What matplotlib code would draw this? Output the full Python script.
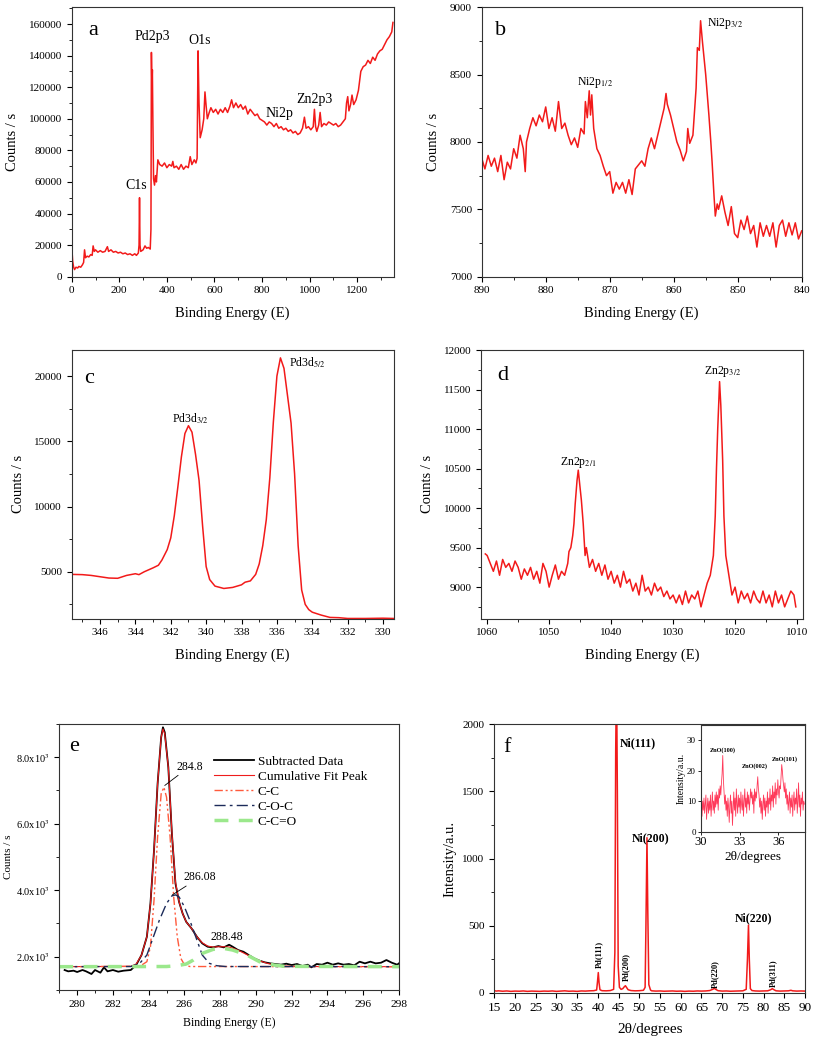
import matplotlib.pyplot as plt
from matplotlib.ticker import MultipleLocator, FuncFormatter
import numpy as np

plt.rcParams['font.family'] = ['Liberation Serif', 'DejaVu Serif']
plt.rcParams['mathtext.fontset'] = 'stix'
plt.rcParams['axes.linewidth'] = 0.8
plt.rcParams['axes.edgecolor'] = '#333333'

RED = '#f21a1a'

# ---- a: survey spectrum
a_x = [0, 1, 4, 8, 12, 18, 25, 30, 38, 45, 50, 54, 58, 65, 72, 80, 86, 90, 95, 100,
       110, 120, 130, 140, 150, 155, 165, 175, 185, 195, 205, 215, 225, 235, 245, 255, 265, 272, 280, 283,
       285, 287, 290, 300, 308, 315, 322, 330, 333, 335, 337, 339, 341, 344, 348, 352, 356, 362, 370, 380,
       390, 400, 410, 420, 425, 430, 440, 450, 460, 470, 480, 490, 498, 505, 515, 522, 527, 531, 535, 540,
       548, 555, 560, 565, 570, 578, 585, 595, 605, 615, 625, 635, 645, 655, 665, 672, 680, 690, 700, 710,
       720, 730, 740, 750, 760, 770, 780, 790, 800, 810, 820, 830, 840, 850, 860, 870, 880, 890, 900, 910,
       920, 930, 940, 950, 960, 970, 978, 985, 995, 1005, 1015, 1020, 1025, 1030, 1038, 1044, 1050, 1060, 1070, 1080,
       1090, 1100, 1110, 1120, 1130, 1140, 1150, 1155, 1160, 1165, 1172, 1178, 1185, 1195, 1205, 1215, 1225, 1235, 1245, 1255,
       1265, 1275, 1285, 1295, 1305, 1315, 1325, 1335, 1345, 1350]
a_y = [1000, 17000, 10000, 6000, 4500, 6000, 5500, 6500, 6000, 7500, 9000, 17000, 12000, 13000, 12500, 14000, 13500, 19500, 16000, 17000,
       15500, 16500, 15500, 16000, 19000, 16000, 17000, 15500, 16000, 15000, 15500, 14500, 15000, 14000, 14500, 13500, 14500, 13500, 15000, 20000,
       50000, 20000, 16000, 17000, 19500, 18000, 18500, 17500, 30000, 142000, 120000, 131000, 100000, 62000, 58000, 64000, 60000, 74000, 71000, 70000,
       72000, 69000, 71000, 70000, 73000, 69000, 70000, 68000, 71000, 68000, 70000, 69000, 76000, 71000, 74000, 72000, 75000, 143000, 110000, 88000,
       93000, 100000, 117000, 108000, 100000, 104000, 107000, 104000, 106000, 103000, 106000, 104000, 107000, 104000, 108000, 112000, 107000, 110000, 107000, 109000,
       106000, 108000, 103000, 106000, 104000, 102000, 103000, 100000, 99000, 98000, 96000, 98000, 97000, 95000, 97000, 94000, 95000, 93000, 94000, 92000,
       93000, 91000, 92000, 90000, 91000, 94000, 101000, 94000, 95000, 93000, 95000, 106000, 95000, 92000, 96000, 104000, 95000, 97000, 96000, 98000,
       97000, 96000, 97000, 95000, 96000, 98000, 100000, 110000, 114000, 105000, 109000, 115000, 109000, 112000, 118000, 130000, 133000, 134000, 137000, 135000,
       139000, 137000, 141000, 143000, 144000, 147000, 150000, 152000, 155000, 161000]

# ---- b: Ni 2p
b_x = [890, 889.5, 889, 888.5, 888, 887.5, 887, 886.5, 886, 885.5, 885, 884.5, 884, 883.5, 883.2, 883, 882.5, 882, 881.5, 881,
       880.5, 880, 879.5, 879, 878.5, 878, 877.5, 877, 876.5, 876, 875.5, 875, 874.5, 874, 873.8, 873.5, 873.2, 873, 872.8, 872.5,
       872, 871.5, 871, 870.5, 870, 869.5, 869, 868.5, 868, 867.5, 867, 866.5, 866, 865.5, 865, 864.5, 864, 863.5, 863, 862.5,
       862, 861.5, 861.2, 861, 860.5, 860, 859.5, 859, 858.5, 858, 857.8, 857.5, 857, 856.5, 856.3, 856, 855.8, 855.5, 855, 854.5,
       854.2, 854, 853.7, 853.5, 853.2, 853, 852.5, 852, 851.5, 851, 850.5, 850, 849.5, 849, 848.5, 848, 847.5, 847, 846.5, 846,
       845.5, 845, 844.5, 844, 843.5, 843, 842.5, 842, 841.5, 841, 840.5, 840]
b_y = [7880, 7800, 7900, 7820, 7880, 7780, 7900, 7720, 7850, 7800, 7950, 7880, 8050, 7950, 7780, 8000, 8100, 8180, 8120, 8200,
       8150, 8260, 8100, 8180, 8080, 8300, 8100, 8140, 8050, 7980, 8030, 7960, 8100, 8060, 8300, 8180, 8380, 8200, 8350, 8100,
       7950, 7900, 7820, 7750, 7780, 7620, 7700, 7650, 7700, 7620, 7720, 7610, 7800, 7830, 7860, 7820, 7950, 8030, 7950, 8050,
       8150, 8250, 8360, 8280, 8200, 8100, 8000, 7940, 7860, 7930, 8100, 7990, 8050, 8400, 8700, 8680, 8900, 8740, 8500, 8200,
       8000, 7850, 7600, 7450, 7540, 7500, 7600, 7480, 7380, 7520, 7320, 7290, 7420, 7350, 7450, 7320, 7380, 7220, 7400, 7300,
       7380, 7300, 7400, 7220, 7380, 7420, 7300, 7400, 7310, 7400, 7280, 7340]

# ---- c: Pd 3d
c_x = [347.6, 347, 346.5, 346, 345.5, 345, 344.5, 344, 343.8, 343.5, 343, 342.7, 342.5, 342.2, 342, 341.8, 341.6, 341.4, 341.2, 341.0,
       340.8, 340.6, 340.4, 340.2, 340, 339.8, 339.5, 339, 338.5, 338, 337.8, 337.5, 337.2, 337, 336.8, 336.6, 336.4, 336.2, 336, 335.8,
       335.6, 335.4, 335.2, 335, 334.8, 334.6, 334.4, 334.2, 334, 333.5, 333, 332.5, 332, 331, 330, 329.4]
c_y = [4800, 4780, 4720, 4620, 4520, 4500, 4720, 4850, 4780, 5000, 5300, 5500, 5900, 6700, 7600, 9300, 11500, 13800, 15600, 16200,
       15700, 14000, 12000, 8500, 5400, 4400, 3900, 3720, 3800, 4000, 4200, 4300, 4800, 5600, 7000, 9000, 12200, 16500, 20000, 21400,
       20600, 18500, 16400, 12500, 7000, 3600, 2500, 2100, 1900, 1680, 1500, 1480, 1420, 1420, 1440, 1420]

# ---- d: Zn 2p
d_x = [1060.3, 1060, 1059.5, 1059, 1058.5, 1058, 1057.5, 1057, 1056.5, 1056, 1055.5, 1055, 1054.5, 1054, 1053.5, 1053, 1052.5, 1052, 1051.5, 1051,
       1050.5, 1050, 1049.5, 1049, 1048.5, 1048, 1047.5, 1047, 1046.8, 1046.5, 1046.2, 1046, 1045.8, 1045.5, 1045.3, 1045, 1044.8, 1044.5, 1044.2, 1044,
       1043.5, 1043, 1042.5, 1042, 1041.5, 1041, 1040.5, 1040, 1039.5, 1039, 1038.5, 1038, 1037.5, 1037, 1036.5, 1036, 1035.5, 1035, 1034.5, 1034,
       1033.5, 1033, 1032.5, 1032, 1031.5, 1031, 1030.5, 1030, 1029.5, 1029, 1028.5, 1028, 1027.5, 1027, 1026.5, 1026, 1025.5, 1025, 1024.5, 1024,
       1023.5, 1023.2, 1023, 1022.8, 1022.5, 1022.3, 1022, 1021.8, 1021.5, 1021.2, 1021, 1020.5, 1020, 1019.5, 1019, 1018.5, 1018, 1017.5, 1017, 1016.5,
       1016, 1015.5, 1015, 1014.5, 1014, 1013.5, 1013, 1012.5, 1012, 1011.5, 1011, 1010.5, 1010.2]
d_y = [9420, 9400, 9300, 9200, 9330, 9150, 9350, 9250, 9300, 9200, 9330, 9250, 9100, 9230, 9150, 9250, 9100, 9200, 9050, 9300,
       9200, 9000, 9150, 9280, 9100, 9200, 9150, 9300, 9450, 9500, 9650, 9800, 10050, 10350, 10480, 10250, 10100, 9800, 9400, 9500,
       9250, 9350, 9200, 9300, 9150, 9280, 9100, 9200, 9050, 9150, 9000, 9200, 9050, 9100, 8950, 9050, 8900, 9150, 8950, 9000,
       8900, 9050, 8950, 9000, 8880, 8950, 8850, 8900, 8800, 8900, 8780, 8950, 8800, 8900, 8850, 8950, 8750, 8900, 9050, 9150,
       9400, 9900, 10500, 11000, 11600, 11300, 10600, 9900, 9400, 9250, 9150, 8900, 9000, 8800, 8950, 8850, 8920, 8800, 8950, 8850,
       8800, 8950, 8800, 8900, 8750, 8950, 8800, 8900, 8750, 8850, 8950, 8900, 8750]

# ---- e: C 1s fit
e_data_x = [279.3, 279.5, 279.8, 280, 280.3, 280.5, 280.8, 281, 281.3, 281.5, 281.7, 282, 282.3, 282.6, 283, 283.3, 283.6, 283.9, 284.1, 284.3,
            284.5, 284.7, 284.8, 284.9, 285.1, 285.3, 285.5, 285.7, 285.9, 286.1, 286.4, 286.7, 287, 287.3, 287.6, 287.9, 288.2, 288.5, 288.7, 289,
            289.3, 289.6, 289.9, 290.2, 290.5, 290.8, 291.1, 291.4, 291.7, 292, 292.3, 292.6, 292.9, 293.1, 293.4, 293.7, 294, 294.3, 294.6, 294.9,
            295.2, 295.5, 295.8, 296.1, 296.4, 296.7, 297, 297.3, 297.6, 297.9, 298]
e_data_y = [1600, 1560, 1580, 1540, 1600, 1560, 1480, 1600, 1520, 1680, 1560, 1600, 1550, 1580, 1600, 1750, 2050, 2600, 3600, 5200,
            7200, 8600, 8900, 8750, 7700, 5700, 4200, 3650, 3300, 3050, 2850, 2600, 2400, 2300, 2280, 2320, 2280, 2360, 2300, 2200,
            2150, 2050, 1950, 1880, 1830, 1800, 1780, 1760, 1790, 1750, 1780, 1720, 1760, 1680, 1780, 1760, 1820, 1760, 1800, 1760,
            1780, 1740, 1850, 1800, 1850, 1800, 1820, 1900, 1820, 1760, 1800]
e_fit_x = [279, 283, 283.3, 283.6, 283.9, 284.1, 284.3, 284.5, 284.7, 284.8, 284.9, 285.1, 285.3, 285.5, 285.7, 285.9, 286.1, 286.4, 286.7, 287.0,
           287.3, 287.6, 287.9, 288.2, 288.5, 288.8, 289.1, 289.5, 289.9, 290.3, 290.7, 291.1, 291.6, 292.2, 298]
e_fit_y = [1700, 1710, 1780, 2050, 2600, 3600, 5200, 7200, 8600, 8850, 8700, 7700, 5750, 4250, 3650, 3300, 3050, 2850, 2600, 2420,
           2320, 2290, 2300, 2300, 2290, 2240, 2170, 2060, 1950, 1860, 1790, 1750, 1720, 1705, 1700]
e_cc_x = [279, 283.5, 283.9, 284.1, 284.3, 284.5, 284.7, 284.85, 285.0, 285.2, 285.4, 285.6, 285.8, 286.0, 286.3, 298]
e_cc_y = [1700, 1710, 1850, 2300, 3700, 5600, 6900, 7100, 6800, 5600, 3800, 2600, 1950, 1760, 1705, 1700]
e_coc_x = [279, 283, 283.5, 283.9, 284.2, 284.6, 285.0, 285.3, 285.5, 285.7, 286.0, 286.3, 286.7, 287.0, 287.4, 287.8, 288.3, 298]
e_coc_y = [1700, 1705, 1800, 2050, 2500, 3100, 3600, 3830, 3860, 3800, 3500, 3100, 2500, 2050, 1800, 1730, 1705, 1700]
e_cco_x = [279, 285, 285.6, 286.1, 286.5, 287.0, 287.6, 288.1, 288.7, 289.5, 290.2, 291.0, 291.6, 298]
e_cco_y = [1700, 1705, 1730, 1780, 1900, 2100, 2220, 2260, 2200, 2050, 1850, 1750, 1710, 1700]

# ---- f: XRD
f_x = [15, 15.5, 16, 17, 18, 19, 20, 21, 22, 23, 24, 25, 26, 27, 28, 29, 30, 31, 32, 33,
       34, 35, 36, 37, 38, 39, 39.7, 39.9, 40.1, 40.3, 40.5, 41, 42, 43, 43.8, 44.1, 44.3, 44.5, 44.7, 44.9,
       45.2, 45.6, 46, 46.4, 46.65, 46.9, 47.3, 48, 49, 50, 51, 51.4, 51.6, 51.85, 52.05, 52.3, 52.7, 53, 54, 55,
       56, 57, 58, 59, 60, 61, 62, 63, 64, 65, 66, 67, 67.7, 68.1, 68.5, 69, 70, 71, 72, 73,
       74, 75, 75.8, 76.1, 76.35, 76.55, 76.8, 77.2, 78, 79, 80, 81, 81.7, 82.1, 82.5, 83, 84, 85, 86, 86.6,
       87, 88, 89, 90]
f_y = [15, 12, 14, 11, 13, 10, 12, 11, 13, 10, 12, 11, 10, 12, 11, 13, 10, 12, 14, 11,
       12, 10, 13, 12, 14, 15, 20, 80, 150, 70, 22, 15, 14, 16, 25, 300, 1800, 2400, 1500, 200,
       40, 25, 30, 45, 52, 40, 22, 16, 14, 15, 18, 40, 500, 1155, 600, 60, 20, 14, 12, 13,
       11, 12, 13, 11, 12, 10, 12, 11, 13, 12, 13, 16, 25, 32, 24, 15, 12, 13, 11, 12,
       13, 14, 25, 250, 504, 250, 30, 16, 13, 12, 13, 14, 22, 30, 22, 14, 12, 13, 14, 18,
       14, 12, 13, 12]
ins_start, ins_step = 30.0, 0.05
ins_y = [8, 12, 5, 10, 7, 11, 6, 9, 12, 4, 8, 11, 6, 10, 7, 12, 5, 9, 13, 7,
         10, 6, 12, 8, 13, 9, 12, 7, 14, 11, 15, 12, 16, 19, 25, 17, 13, 9, 12, 7,
         10, 5, 11, 8, 3, 9, 12, 6, 10, 2, 8, 13, 7, 11, 5, 14, 9, 6, 12, 8,
         11, 6, 13, 9, 7, 12, 5, 10, 14, 8, 11, 6, 13, 9, 12, 7, 10, 14, 11, 13,
         9, 12, 6, 14, 10, 13, 11, 15, 18, 14, 12, 8, 11, 6, 10, 4, 9, 12, 7, 11,
         5, 10, 8, 13, 6, 11, 9, 14, 7, 12, 10, 15, 8, 13, 11, 16, 9, 14, 12, 17,
         13, 11, 15, 14, 18, 22, 20, 17, 15, 13, 16, 11, 14, 9, 12, 7, 10, 13, 6, 11,
         8, 12, 5, 10, 13, 7, 11, 9, 14, 6, 10, 16, 8, 12, 5, 11, 9, 13, 7, 10,
         9]
ins_x = ins_start + ins_step * np.arange(len(ins_y))


def style(ax, xmaj, xmin, ymaj, ymin, size=8):
    ax.xaxis.set_major_locator(MultipleLocator(xmaj))
    ax.xaxis.set_minor_locator(MultipleLocator(xmin))
    ax.yaxis.set_major_locator(MultipleLocator(ymaj))
    ax.yaxis.set_minor_locator(MultipleLocator(ymin))
    ax.tick_params(which='major', direction='out', length=3.5, width=0.8, labelsize=size)
    ax.tick_params(which='minor', direction='out', length=2, width=0.6)


fig = plt.figure(figsize=(8.13, 10.39), dpi=100)

# a
ax = fig.add_axes([0.0882, 0.7337, 0.396, 0.2593])
ax.plot(a_x, a_y, color=RED, lw=1.1)
ax.set_xlim(0, 1353)
ax.set_ylim(0, 170600)
style(ax, 200, 100, 20000, 10000)
ax.set_xlabel('Binding Energy (E)', fontsize=10.5, labelpad=8)
ax.set_ylabel('Counts / s', fontsize=10.5, labelpad=7)
ax.text(0.05, 0.95, 'a', transform=ax.transAxes, fontsize=16, va='top')
for lab, x, y in [('C1s', 269, 57600), ('Pd2p3', 337, 151800), ('O1s', 539, 149400),
                  ('Ni2p', 872, 103500), ('Zn2p3', 1022, 111900)]:
    ax.text(x, y, lab, fontsize=10, ha='center', va='center')

# b
ax = fig.add_axes([0.5925, 0.7337, 0.3936, 0.2593])
ax.plot(b_x, b_y, color=RED, lw=1.1)
ax.set_xlim(890, 840)
ax.set_ylim(7000, 9000)
style(ax, 10, 5, 500, 250)
ax.set_xlabel('Binding Energy (E)', fontsize=10.5, labelpad=8)
ax.set_ylabel('Counts / s', fontsize=10.5, labelpad=7)
ax.text(0.04, 0.95, 'b', transform=ax.transAxes, fontsize=16, va='top')
ax.text(872.3, 8440, r'Ni2p$_{1/2}$', fontsize=8.5, ha='center', va='center')
ax.text(854.8, 8876, r'Ni2p$_{3/2}$', fontsize=8.5, ha='left', va='center')

# c
ax = fig.add_axes([0.0882, 0.4045, 0.396, 0.2586])
ax.plot(c_x, c_y, color=RED, lw=1.1)
ax.set_xlim(347.6, 329.4)
ax.set_ylim(1400, 22000)
style(ax, 2, 1, 5000, 2500)
ax.set_xlabel('Binding Energy (E)', fontsize=10.5, labelpad=8)
ax.set_ylabel('Counts / s', fontsize=10.5, labelpad=7)
ax.text(0.04, 0.93, 'c', transform=ax.transAxes, fontsize=16, va='top')
ax.text(340.9, 16760, r'Pd3d$_{3/2}$', fontsize=8.5, ha='center', va='center')
ax.text(334.3, 21050, r'Pd3d$_{5/2}$', fontsize=8.5, ha='center', va='center')

# d
ax = fig.add_axes([0.5916, 0.4045, 0.3964, 0.2586])
ax.plot(d_x, d_y, color=RED, lw=1.1)
ax.set_xlim(1061, 1009)
ax.set_ylim(8600, 12000)
style(ax, 10, 5, 500, 250)
ax.set_xlabel('Binding Energy (E)', fontsize=10.5, labelpad=8)
ax.set_ylabel('Counts / s', fontsize=10.5, labelpad=7)
ax.text(0.05, 0.94, 'd', transform=ax.transAxes, fontsize=16, va='top')
ax.text(1045.3, 10580, r'Zn2p$_{2/1}$', fontsize=8.5, ha='center', va='center')
ax.text(1022, 11725, r'Zn2p$_{3/2}$', fontsize=8.5, ha='center', va='center')

# e
ax = fig.add_axes([0.0729, 0.0472, 0.4178, 0.256])
ax.plot(e_data_x, e_data_y, color='black', lw=1.3, label='Subtracted Data')
ax.plot(e_fit_x, e_fit_y, color='#ee1c1c', lw=0.8, label='Cumulative Fit Peak')
ax.plot(e_cc_x, e_cc_y, color='#ff5a3c', lw=1.0, ls=(0, (6, 2, 1.5, 2, 1.5, 2)), label='C-C')
ax.plot(e_coc_x, e_coc_y, color='#1c2b5a', lw=1.0, ls=(0, (8, 3, 2, 3)), label='C-O-C')
ax.plot(e_cco_x, e_cco_y, color='#9be88c', lw=2.5, ls=(0, (4, 3)), label='C-C=O')
ax.set_xlim(279, 298)
ax.set_ylim(1000, 9000)
style(ax, 2, 1, 2000, 1000, size=8.2)
ax.tick_params(axis='y', labelsize=7.5)
ax.yaxis.set_major_formatter(FuncFormatter(lambda v, p: '%.1fx10$^3$' % (v / 1000)))
ax.set_xlabel('Binding Energy (E)', fontsize=8.5, labelpad=6)
ax.set_ylabel('Counts / s', fontsize=8, labelpad=2)
ax.text(0.03, 0.95, 'e', transform=ax.transAxes, fontsize=16, va='top')
ax.legend(loc='upper left', bbox_to_anchor=(0.44, 0.9), frameon=False, fontsize=9.5,
          handlelength=3.0, handletextpad=0.3, labelspacing=0.2, borderaxespad=0)
ax.annotate('284.8', xy=(284.9, 7150), xytext=(285.55, 7720), fontsize=8.5, va='center',
            arrowprops=dict(arrowstyle='-', color='black', lw=0.6, shrinkA=0, shrinkB=0))
ax.annotate('286.08', xy=(285.32, 3857), xytext=(285.95, 4390), fontsize=8.5, va='center',
            arrowprops=dict(arrowstyle='-', color='black', lw=0.6, shrinkA=0, shrinkB=0))
ax.text(287.45, 2584, '288.48', fontsize=8.5, va='center')

# f
ax = fig.add_axes([0.608, 0.04456, 0.3822, 0.2583])
ax.plot(f_x, f_y, color=RED, lw=1.1)
ax.set_xlim(15, 90)
ax.set_ylim(0, 2000)
style(ax, 5, 5, 500, 250)
ax.tick_params(axis='x', labelsize=9.5)
ax.set_xlabel('2θ/degrees', fontsize=11, labelpad=6)
ax.set_ylabel('Intensity/a.u.', fontsize=10.5)
ax.text(0.03, 0.95, 'f', transform=ax.transAxes, fontsize=16, va='top')
for lab, x, y in [('Ni(111)', 45.3, 1859), ('Ni(200)', 48.2, 1147), ('Ni(220)', 73.1, 555)]:
    ax.text(x, y, lab, fontsize=8.5, fontweight='bold', ha='left', va='center')
for lab, x, y in [('Pd(111)', 40.2, 181), ('Pd(200)', 46.7, 89), ('Pd(220)', 68.25, 32), ('Pd(311)', 82.25, 45)]:
    ax.text(x, y, lab, fontsize=6, fontweight='bold', rotation=90, ha='center', va='bottom')

ins = fig.add_axes([0.8619, 0.1997, 0.1283, 0.1025])
ins.plot(ins_x, ins_y, color='#ff3a5a', lw=0.6)
ins.set_xlim(30, 38.05)
ins.set_ylim(0, 35)
ins.xaxis.set_major_locator(MultipleLocator(3))
ins.yaxis.set_major_locator(MultipleLocator(10))
ins.tick_params(direction='out', length=2.5, width=0.6, labelsize=9, pad=1)
ins.tick_params(axis='y', labelsize=6.5)
ins.set_xlabel('2θ/degrees', fontsize=9.5, labelpad=2)
ins.set_ylabel('Intensity/a.u.', fontsize=7, labelpad=1)
for lab, x, y in [('ZnO(100)', 30.72, 26.8), ('ZnO(002)', 33.17, 21.5), ('ZnO(101)', 35.5, 23.8)]:
    ins.text(x, y, lab, fontsize=4.5, fontweight='bold', ha='left', va='center')

fig.savefig('out.png', dpi=100)
